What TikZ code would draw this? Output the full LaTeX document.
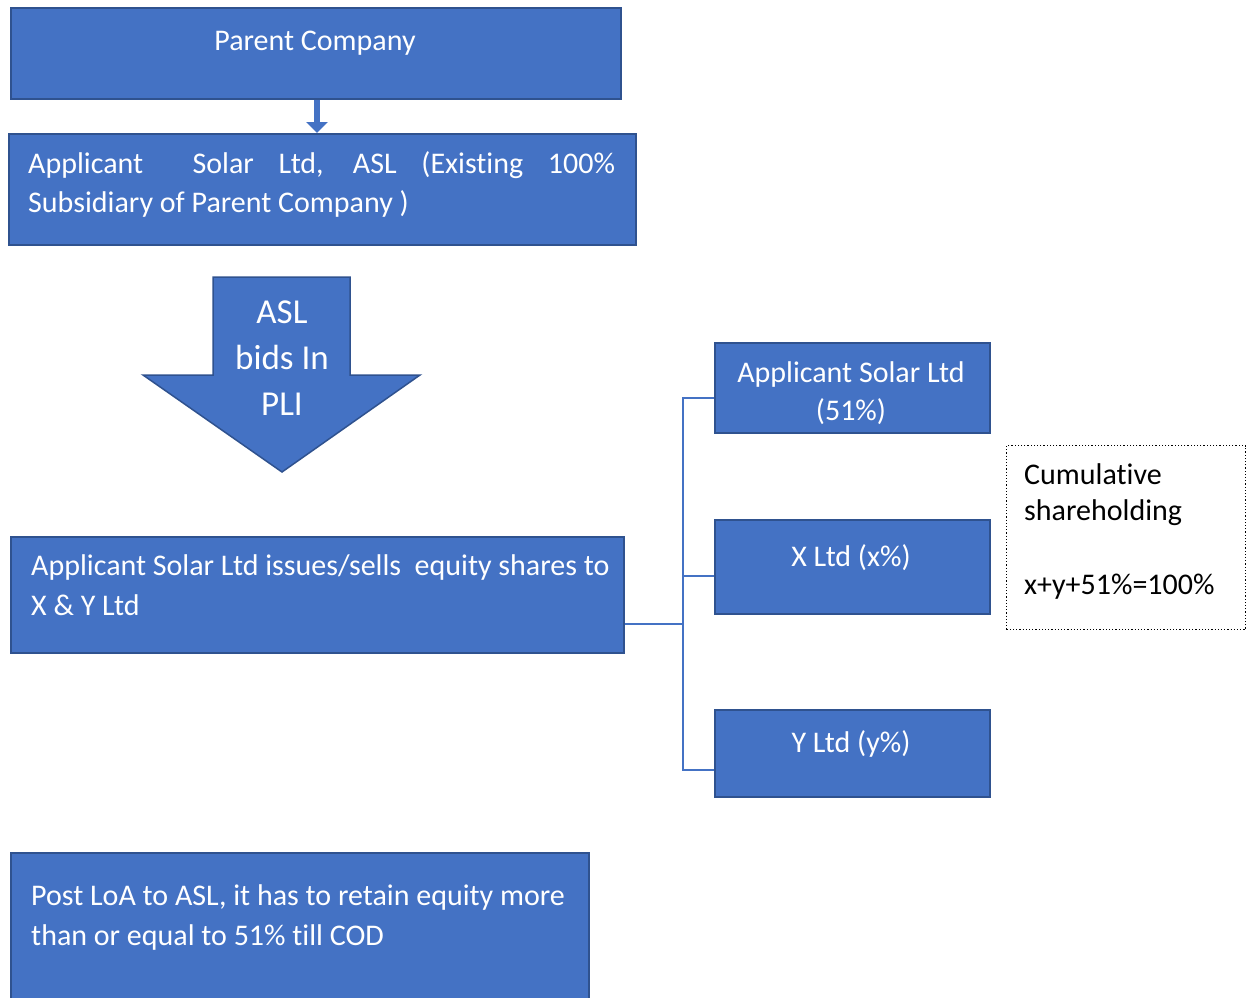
\documentclass[tikz,border=0pt]{standalone}
\usepackage{fontspec}
\setmainfont{Carlito}[Ligatures=NoCommon]
\usetikzlibrary{arrows.meta}
\definecolor{boxfill}{HTML}{4472C4}
\definecolor{boxline}{HTML}{2F528F}
\tikzset{
  box/.style={rectangle, fill=boxfill, draw=boxline, line width=2pt, anchor=north west, inner sep=0pt},
  txt/.style={text=white, inner sep=0pt, font=\fontsize{30}{38}\selectfont},
  bigtxt/.style={text=white, inner sep=0pt, font=\fontsize{35}{46}\selectfont},
  blacktxt/.style={text=black, inner sep=0pt, font=\fontsize{30}{38}\selectfont},
  conn/.style={draw=boxfill, line width=1.5pt},
  bigarrow/.style={fill=boxfill, draw=boxline, line width=1.5pt, line join=miter},
  note/.style={rectangle, draw=black, dotted, line width=1.2pt, anchor=north west, inner sep=0pt}
}
\begin{document}
\begin{tikzpicture}[x=1pt,y=-1pt]
\useasboundingbox (0,0) rectangle (1249,997);
\clip (0,0) rectangle (1249,997);
% boxes
\node[box, minimum width=610pt, minimum height=91pt] (p) at (10,7) {};
\node[box, minimum width=627pt, minimum height=111pt] (a) at (8,133) {};
\node[box, minimum width=613pt, minimum height=116pt] (is) at (10,536) {};
\node[box, minimum width=275pt, minimum height=90pt] (asl) at (714,342) {};
\node[box, minimum width=275pt, minimum height=94pt] (xl) at (714,519) {};
\node[box, minimum width=275pt, minimum height=87pt] (yl) at (714,709) {};
\node[box, minimum width=578pt, minimum height=160pt] (post) at (10,852) {};
\node[note, minimum width=239pt, minimum height=184pt] (cum) at (1006,445) {};
% parent -> applicant arrow
\draw[draw=boxfill, line width=6pt, -{Triangle[width=21pt,length=11pt]}] ([xshift=1pt]p.south) -- ([xshift=1pt]p.south |- a.north);
% big down arrow
\draw[bigarrow] (213,277) -- (350,277) -- (350,375) -- (420,375) -- (282,472) -- (143,375) -- (213,375) -- cycle;
% connectors
\coordinate (jn) at (683,623);
\draw[conn] ([yshift=-29pt]is.east) -- ([yshift=-29pt]is.east -| jn);
\draw[conn] ([yshift=-10pt]asl.west) -| (jn) |- ([yshift=-16.5pt]yl.west);
\draw[conn] ([yshift=-9pt]xl.west) -- ([yshift=-9pt]xl.west -| jn);
% texts
\node[txt, anchor=base] (pt) at (315,50) {Parent Company};
\node[txt, anchor=base west] (at1) at (28,173) {\makebox[587pt][s]{Applicant\ \ Solar Ltd, ASL (Existing 100\%}};
\node[txt, anchor=base west] (at2) at (28,212) {Subsidiary of Parent Company )};
\node[bigtxt, anchor=base] (b1) at (282,323) {ASL};
\node[bigtxt, anchor=base] (b2) at (282,369) {bids In};
\node[bigtxt, anchor=base] (b3) at (282,415) {PLI};
\node[txt, anchor=base west] (i1) at (31,575) {Applicant Solar Ltd issues/sells\ \ equity shares to};
\node[txt, anchor=base west] (i2) at (31,615) {X \& Y Ltd};
\node[txt, anchor=base] (s1) at (851,382) {Applicant Solar Ltd};
\node[txt, anchor=base] (s2) at (851,420) {(51\%)};
\node[txt, anchor=base] (x1) at (851,566) {X Ltd (x\%)};
\node[txt, anchor=base] (y1) at (851,752) {Y Ltd (y\%)};
\node[blacktxt, anchor=base west] (c1) at (1024,484) {Cumulative};
\node[blacktxt, anchor=base west] (c2) at (1024,520) {shareholding};
\node[blacktxt, anchor=base west] (c3) at (1024,594) {x+y+51\%=100\%};
\node[txt, anchor=base west] (q1) at (31,905) {Post LoA to ASL, it has to retain equity more};
\node[txt, anchor=base west] (q2) at (31,945) {than or equal to 51\% till COD};
\end{tikzpicture}
\end{document}
